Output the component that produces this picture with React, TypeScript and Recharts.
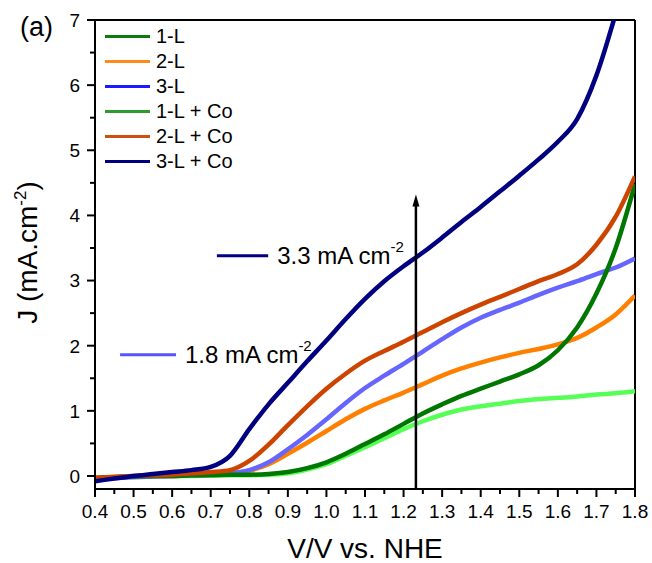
import React from 'react';
import { LineChart, Line, XAxis, YAxis, ReferenceLine, Legend } from 'recharts';

const FONT = '"Liberation Sans", Arial, Helvetica, sans-serif';

const volts = [0.40, 0.45, 0.50, 0.55, 0.60, 0.65, 0.70, 0.75, 0.80, 0.85, 0.90, 0.95, 1.00, 1.05, 1.10, 1.15, 1.20, 1.25, 1.30, 1.35, 1.40, 1.45, 1.50, 1.55, 1.60, 1.65, 1.70, 1.75, 1.80];
const j1L = [-0.03, -0.02, -0.01, 0.0, 0.0, 0.0, 0.01, 0.01, 0.01, 0.02, 0.04, 0.10, 0.18, 0.31, 0.44, 0.58, 0.72, 0.84, 0.94, 1.02, 1.07, 1.11, 1.15, 1.18, 1.20, 1.22, 1.25, 1.27, 1.30];
const j2L = [-0.03, -0.02, -0.01, 0.0, 0.0, 0.01, 0.02, 0.04, 0.08, 0.18, 0.34, 0.51, 0.69, 0.87, 1.03, 1.16, 1.28, 1.41, 1.54, 1.65, 1.74, 1.82, 1.89, 1.95, 2.02, 2.12, 2.28, 2.48, 2.77];
const j3L = [-0.05, -0.03, -0.02, -0.01, 0.0, 0.01, 0.02, 0.04, 0.09, 0.21, 0.41, 0.63, 0.87, 1.12, 1.35, 1.54, 1.72, 1.91, 2.10, 2.28, 2.43, 2.55, 2.66, 2.78, 2.89, 2.99, 3.10, 3.20, 3.34];
const j1LCo = [-0.03, -0.02, -0.01, 0.0, 0.0, 0.01, 0.01, 0.02, 0.02, 0.03, 0.06, 0.12, 0.21, 0.34, 0.49, 0.64, 0.80, 0.96, 1.10, 1.23, 1.34, 1.45, 1.56, 1.70, 1.93, 2.28, 2.80, 3.50, 4.48];
const j2LCo = [-0.03, -0.01, 0.0, 0.01, 0.02, 0.04, 0.06, 0.09, 0.23, 0.48, 0.78, 1.07, 1.34, 1.57, 1.77, 1.92, 2.06, 2.21, 2.36, 2.50, 2.63, 2.75, 2.87, 2.99, 3.10, 3.25, 3.55, 3.98, 4.60];
const j3LCo = [-0.08, -0.04, 0.0, 0.03, 0.06, 0.09, 0.14, 0.31, 0.72, 1.10, 1.43, 1.76, 2.08, 2.41, 2.72, 2.99, 3.22, 3.43, 3.66, 3.90, 4.13, 4.37, 4.61, 4.86, 5.13, 5.48, 6.15, 7.10, null];

const seriesKeys = ['s1L', 's2L', 's3L', 's1LCo', 's2LCo', 's3LCo'];
const seriesNames = ['1-L', '2-L', '3-L', '1-L + Co', '2-L + Co', '3-L + Co'];
const seriesValues = [j1L, j2L, j3L, j1LCo, j2LCo, j3LCo];
const lineColors = ['#55ff55', '#ff8000', '#6666ff', '#007700', '#cc4400', '#000080'];
const legendColors = ['#0b7b0b', '#ff8c1a', '#1a1aff', '#2d9b2d', '#cc5010', '#000080'];

const xTicks = [0.4, 0.45, 0.5, 0.55, 0.6, 0.65, 0.7, 0.75, 0.8, 0.85, 0.9, 0.95, 1.0, 1.05, 1.1, 1.15, 1.2, 1.25, 1.3, 1.35, 1.4, 1.45, 1.5, 1.55, 1.6, 1.65, 1.7, 1.75, 1.8];
const yTicks = [0, 0.5, 1, 1.5, 2, 2.5, 3, 3.5, 4, 4.5, 5, 5.5, 6, 6.5, 7];

const arrowV = 1.232;
const arrowBottom = -0.2;
const arrowTop = 4.32;
const annot33 = { x1: 0.716, x2: 0.849, y: 3.38, text: '3.3 mA cm', color: '#000080' };
const annot18 = { x1: 0.465, x2: 0.61, y: 1.86, text: '1.8 mA cm', color: '#5555ff' };

const data = volts.map((v, i) => {
  const row: any = { v };
  seriesKeys.forEach((k, s) => { row[k] = seriesValues[s][i]; });
  return row;
});

const TICK = 8;

const XTick = (props: any) => {
  const { x, y, payload } = props;
  const v = payload.value;
  const major = Math.abs(Math.round(v * 10) - v * 10) < 1e-6;
  const y0 = y - TICK;
  return (
    <g>
      <line x1={x} x2={x} y1={y0} y2={y0 + (major ? 8 : 5)} stroke="#000" strokeWidth={2} />
      {major && (
        <text x={x} y={y0 + 29} textAnchor="middle" fontSize={19} fontFamily={FONT} fill="#000">
          {v.toFixed(1)}
        </text>
      )}
    </g>
  );
};

const YTick = (props: any) => {
  const { x, y, payload } = props;
  const v = payload.value;
  const major = Math.abs(Math.round(v) - v) < 1e-6;
  const x0 = x + TICK;
  return (
    <g>
      <line x1={x0} x2={x0 - (major ? 8 : 5)} y1={y} y2={y} stroke="#000" strokeWidth={2} />
      {major && (
        <text x={x0 - 15} y={y} dy="0.36em" textAnchor="end" fontSize={19} fontFamily={FONT} fill="#000">
          {v}
        </text>
      )}
    </g>
  );
};

const YLabel = (props: any) => {
  const vb = props.viewBox;
  const cx = vb.x + 37;
  const cy = vb.y + vb.height / 2 - 2;
  return (
    <text x={cx} y={cy} transform={`rotate(-90 ${cx} ${cy})`} textAnchor="middle" fontSize={28} fontFamily={FONT} fill="#000">
      J (mA.cm<tspan dy={-11} fontSize={17}>-2</tspan><tspan dy={11}>)</tspan>
    </text>
  );
};

const XLabel = (props: any) => {
  const vb = props.viewBox;
  return (
    <text x={vb.x + vb.width / 2} y={vb.y + 69} textAnchor="middle" fontSize={28} fontFamily={FONT} fill="#000">
      V/V vs. NHE
    </text>
  );
};

const Arrow = (p: any) => {
  const { x1, y1, x2, y2 } = p;
  return (
    <g>
      <line x1={x1} y1={y1} x2={x2} y2={y2 + 11} stroke="#000" strokeWidth={2.5} />
      <polygon points={`${x2},${y2} ${x2 - 3.5},${y2 + 12} ${x2 + 3.5},${y2 + 12}`} fill="#000" />
    </g>
  );
};

const makeAnnot = (text: string, color: string) => (p: any) => {
  const { x1, y1, x2, y2 } = p;
  return (
    <g>
      <line x1={x1} y1={y1} x2={x2} y2={y2} stroke={color} strokeWidth={3} />
      <text x={x2 + 9} y={y2 + 8} fontSize={24} fontFamily={FONT} fill="#000">
        {text}<tspan dy={-12} fontSize={15}>-2</tspan>
      </text>
    </g>
  );
};

const renderLegend = () => (
  <div style={{ fontFamily: FONT, fontSize: 20, color: '#000' }}>
    {seriesNames.map((n, i) => (
      <div key={n} style={{ display: 'flex', alignItems: 'center', height: 25 }}>
        <div style={{ width: 45, height: 3, background: legendColors[i], marginRight: 6 }} />
        <span style={{ lineHeight: '25px' }}>{n}</span>
      </div>
    ))}
  </div>
);

export default function App() {
  return (
    <div style={{ position: 'absolute', left: 0, top: 0, width: 652, height: 563, background: '#fff', fontFamily: FONT }}>
      <div style={{ position: 'absolute', left: 20, top: 12, fontSize: 27, fontFamily: FONT, zIndex: 2 }}>(a)</div>
      <LineChart width={652} height={563} data={data} margin={{ top: 20, right: 17, bottom: 0, left: 0 }}>
        <XAxis
          dataKey="v"
          type="number"
          domain={[0.4, 1.8]}
          ticks={xTicks}
          interval={0}
          height={74}
          tickSize={TICK}
          tickMargin={0}
          tickLine={false}
          tick={<XTick />}
          axisLine={{ stroke: '#000', strokeWidth: 2 }}
          allowDataOverflow
          label={<XLabel />}
        />
        <YAxis
          type="number"
          domain={[-0.2, 7]}
          ticks={yTicks}
          interval={0}
          width={95}
          tickSize={TICK}
          tickMargin={0}
          tickLine={false}
          tick={<YTick />}
          axisLine={{ stroke: '#000', strokeWidth: 2 }}
          allowDataOverflow
          label={<YLabel />}
        />
        <ReferenceLine y={7} stroke="#000" strokeWidth={2} />
        <ReferenceLine x={1.8} stroke="#000" strokeWidth={2} />
        {seriesKeys.map((k, i) => (
          <Line
            key={k}
            dataKey={k}
            name={seriesNames[i]}
            type="monotone"
            stroke={lineColors[i]}
            strokeWidth={4.5}
            dot={false}
            activeDot={false}
            isAnimationActive={false}
          />
        ))}
        <ReferenceLine segment={[{ x: arrowV, y: arrowBottom }, { x: arrowV, y: arrowTop }]} shape={Arrow} />
        <ReferenceLine segment={[{ x: annot33.x1, y: annot33.y }, { x: annot33.x2, y: annot33.y }]} shape={makeAnnot(annot33.text, annot33.color)} />
        <ReferenceLine segment={[{ x: annot18.x1, y: annot18.y }, { x: annot18.x2, y: annot18.y }]} shape={makeAnnot(annot18.text, annot18.color)} />
        <Legend content={renderLegend} layout="horizontal" align="center" verticalAlign="middle" wrapperStyle={{ left: 105, top: 24, width: 'auto' }} />
      </LineChart>
    </div>
  );
}
